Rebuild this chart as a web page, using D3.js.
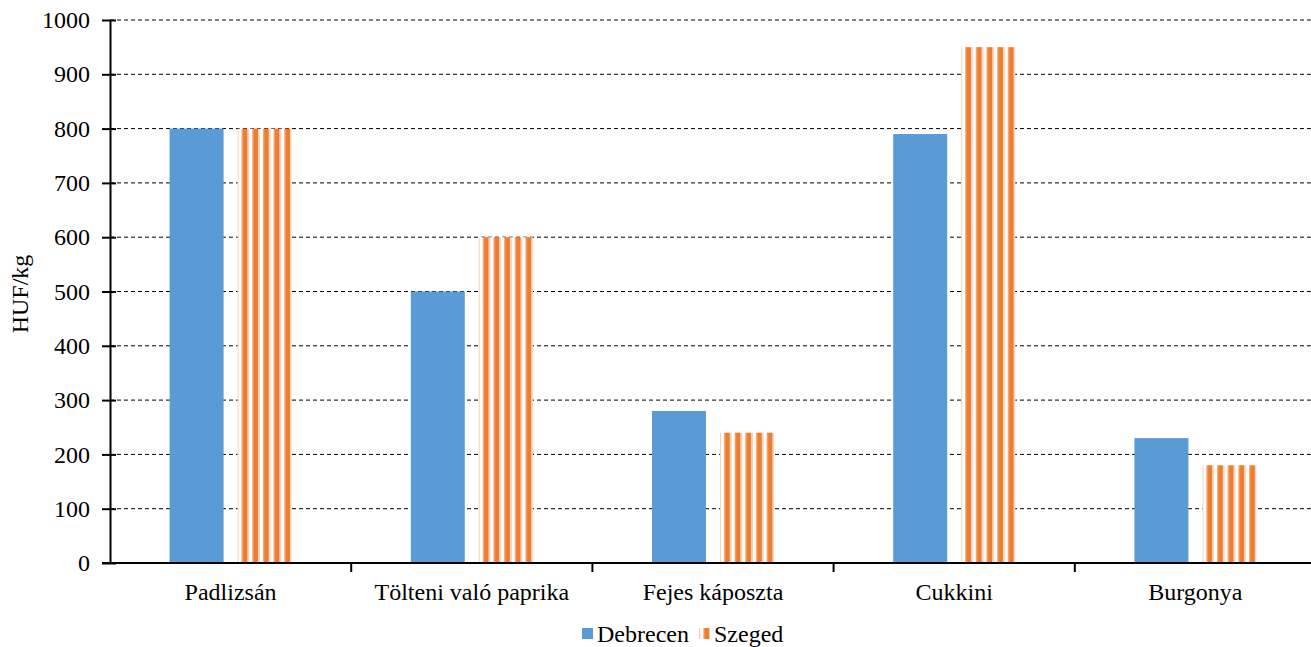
<!DOCTYPE html>
<html>
<head>
<meta charset="utf-8">
<script src="https://cdn.jsdelivr.net/npm/d3@7"></script>
<style>
  body { margin: 0; background: #fff; font-family: serif; }
</style>
</head>
<body>
<svg id="chart" width="1311" height="647"></svg>
<script>
const width = 1311;
const height = 647;
const marginLeft = 110;
const marginTop = 20;
const plotRight = 1316;
const plotBottom = 563;
const fontSize = 24;
const blue = '#5b9bd5';
const orange = '#ed7d31';

// data
const categories = ['Padlizsán', 'Tölteni való paprika', 'Fejes káposzta', 'Cukkini', 'Burgonya'];
const seriesNames = ['Debrecen', 'Szeged'];
const debrecen = [800, 500, 280, 790, 230];
const szeged = [800, 600, 240, 950, 180];
const yTicks = [0, 100, 200, 300, 400, 500, 600, 700, 800, 900, 1000];

const svg = d3.select('#chart');

// striped pattern for Szeged
const defs = svg.append('defs');
const pattern = defs
  .append('pattern')
  .attr('id', 'stripes')
  .attr('patternUnits', 'userSpaceOnUse')
  .attr('width', 10.67)
  .attr('height', 10);
pattern.append('rect').attr('width', 10.67).attr('height', 10).attr('fill', '#fff');
pattern.append('rect').attr('x', 0).attr('width', 1).attr('height', 10).attr('fill', '#f9d3b8');
pattern.append('rect').attr('x', 4).attr('width', 1).attr('height', 10).attr('fill', '#f4a56d');
pattern.append('rect').attr('x', 5).attr('width', 5).attr('height', 10).attr('fill', orange);

const xScale = d3
  .scaleBand()
  .domain(categories)
  .range([marginLeft, plotRight]);

const yScale = d3
  .scaleLinear()
  .domain([0, 1000])
  .range([plotBottom, marginTop]);

// grid lines
svg
  .append('g')
  .selectAll('line')
  .data(yTicks.filter((t) => t > 0))
  .enter()
  .append('line')
  .attr('x1', marginLeft)
  .attr('x2', plotRight)
  .attr('y1', (d) => yScale(d))
  .attr('y2', (d) => yScale(d))
  .attr('stroke', '#000')
  .attr('stroke-width', 1)
  .attr('stroke-dasharray', '4,3');

// bars
const barWidth = 54;
const gap = 14;
const rows = categories.map((c, i) => ({ cat: c, d: debrecen[i], s: szeged[i] }));

svg
  .append('g')
  .selectAll('rect')
  .data(rows)
  .enter()
  .append('rect')
  .attr('x', (d) => xScale(d.cat) + xScale.bandwidth() / 2 - barWidth - gap / 2)
  .attr('y', (d) => yScale(d.d))
  .attr('width', barWidth)
  .attr('height', (d) => yScale(0) - yScale(d.d))
  .attr('fill', blue);

rows.forEach((d, i) => {
  const x = xScale(d.cat) + xScale.bandwidth() / 2 + gap / 2;
  defs
    .append('pattern')
    .attr('id', `stripes-${i}`)
    .attr('href', '#stripes')
    .attr('patternTransform', `translate(${x}, 0)`);
  svg
    .append('rect')
    .attr('x', x)
    .attr('y', yScale(d.s))
    .attr('width', barWidth)
    .attr('height', yScale(0) - yScale(d.s))
    .attr('fill', `url(#stripes-${i})`);
});

// Y axis
const yAxis = d3
  .axisLeft(yScale)
  .tickValues(yTicks)
  .tickFormat(d3.format('d'))
  .tickSize(8)
  .tickSizeOuter(0)
  .tickPadding(12);
const yG = svg
  .append('g')
  .attr('transform', `translate(${marginLeft}, 0)`)
  .call(yAxis);
yG.attr('font-size', fontSize).attr('font-family', 'serif');
yG.select('.domain').attr('stroke-width', 2);
yG.selectAll('.tick line').attr('x1', 6).attr('stroke-width', 2);
yG.selectAll('.tick text').attr('fill', '#000');

// X axis
const xAxis = d3
  .axisBottom(xScale)
  .tickSize(0)
  .tickSizeOuter(0)
  .tickPadding(20);
const xG = svg
  .append('g')
  .attr('transform', `translate(0, ${plotBottom})`)
  .call(xAxis);
xG.attr('font-size', fontSize).attr('font-family', 'serif');
xG.select('.domain').remove();
xG.append('line')
  .attr('x1', marginLeft - 8)
  .attr('x2', plotRight)
  .attr('stroke', '#000')
  .attr('stroke-width', 2);
xG.selectAll('.tick text').attr('fill', '#000');
xG.selectAll('.sep')
  .data(categories.slice(1))
  .enter()
  .append('line')
  .attr('x1', (d) => xScale(d))
  .attr('x2', (d) => xScale(d))
  .attr('y1', 0)
  .attr('y2', 9)
  .attr('stroke', '#000')
  .attr('stroke-width', 2);

// Y axis description
svg
  .append('text')
  .attr('transform', 'rotate(-90)')
  .attr('x', -294)
  .attr('y', 28)
  .attr('text-anchor', 'middle')
  .attr('font-size', fontSize)
  .text('HUF/kg');

// Legend
const legend = svg.append('g').attr('transform', 'translate(582, 628)');
const legendX = [0, 117];
seriesNames.forEach((name, i) => {
  legend
    .append('rect')
    .attr('x', legendX[i])
    .attr('y', 0)
    .attr('width', 11)
    .attr('height', 11)
    .attr('fill', i === 0 ? blue : 'url(#stripes)');
  legend
    .append('text')
    .attr('x', legendX[i] + 15)
    .attr('y', 14)
    .attr('font-size', fontSize)
    .text(name);
});

// same serif face on every text
svg.selectAll('text').attr('font-family', 'Times New Roman');
</script>
</body>
</html>
